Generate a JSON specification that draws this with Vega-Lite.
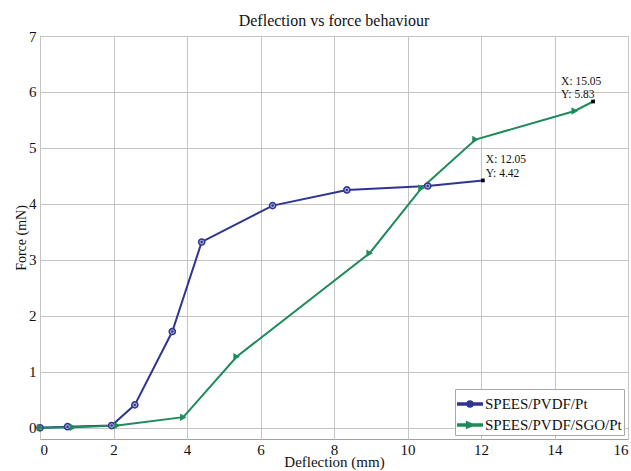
{
  "$schema": "https://vega.github.io/schema/vega-lite/v6.json",
  "width": 588,
  "height": 403,
  "autosize": {"type": "none"},
  "padding": {"left": 40, "top": 36, "right": 3, "bottom": 32},
  "background": "white",
  "title": {
    "text": "Deflection vs force behaviour",
    "fontSize": 16,
    "fontWeight": "normal",
    "font": "Liberation Serif",
    "color": "#111",
    "offset": 0
  },
  "data": {
    "values": [
      {"series": "SPEES/PVDF/Pt", "deflection": 0, "force": 0},
      {"series": "SPEES/PVDF/Pt", "deflection": 0.75, "force": 0.02},
      {"series": "SPEES/PVDF/Pt", "deflection": 1.95, "force": 0.04},
      {"series": "SPEES/PVDF/Pt", "deflection": 2.58, "force": 0.41},
      {"series": "SPEES/PVDF/Pt", "deflection": 3.6, "force": 1.72},
      {"series": "SPEES/PVDF/Pt", "deflection": 4.4, "force": 3.32},
      {"series": "SPEES/PVDF/Pt", "deflection": 6.33, "force": 3.97},
      {"series": "SPEES/PVDF/Pt", "deflection": 8.35, "force": 4.25},
      {"series": "SPEES/PVDF/Pt", "deflection": 10.55, "force": 4.32},
      {"series": "SPEES/PVDF/Pt", "deflection": 12.05, "force": 4.42},
      {"series": "SPEES/PVDF/SGO/Pt", "deflection": 0, "force": 0},
      {"series": "SPEES/PVDF/SGO/Pt", "deflection": 0.9, "force": 0.01},
      {"series": "SPEES/PVDF/SGO/Pt", "deflection": 2.1, "force": 0.04},
      {"series": "SPEES/PVDF/SGO/Pt", "deflection": 3.9, "force": 0.19},
      {"series": "SPEES/PVDF/SGO/Pt", "deflection": 5.35, "force": 1.27},
      {"series": "SPEES/PVDF/SGO/Pt", "deflection": 8.97, "force": 3.12},
      {"series": "SPEES/PVDF/SGO/Pt", "deflection": 10.38, "force": 4.28},
      {"series": "SPEES/PVDF/SGO/Pt", "deflection": 11.85, "force": 5.15},
      {"series": "SPEES/PVDF/SGO/Pt", "deflection": 14.55, "force": 5.66},
      {"series": "SPEES/PVDF/SGO/Pt", "deflection": 15.05, "force": 5.83}
    ]
  },
  "transform": [
    {"joinaggregate": [{"op": "max", "field": "deflection", "as": "lastDeflection"}], "groupby": ["series"]},
    {"calculate": "datum.deflection === datum.lastDeflection", "as": "isLast"}
  ],
  "encoding": {
    "x": {
      "field": "deflection",
      "type": "quantitative",
      "title": "Deflection (mm)",
      "scale": {"domain": [0, 16], "nice": false, "zero": false},
      "axis": {"values": [0, 2, 4, 6, 8, 10, 12, 14, 16], "labelPadding": 3, "titlePadding": -3, "titleFontSize": 15}
    },
    "y": {
      "field": "force",
      "type": "quantitative",
      "title": "Force (mN)",
      "scale": {"domain": [-0.2, 7], "nice": false, "zero": false},
      "axis": {"values": [0, 1, 2, 3, 4, 5, 6, 7], "labelPadding": 4, "titlePadding": 0}
    }
  },
  "layer": [
    {
      "mark": {"type": "line", "strokeWidth": 2},
      "encoding": {
        "color": {
          "field": "series",
          "type": "nominal",
          "scale": {"domain": ["SPEES/PVDF/Pt", "SPEES/PVDF/SGO/Pt"], "range": ["#2e3591", "#1f8a5a"]},
          "legend": {
            "title": null,
            "orient": "bottom-right",
            "offset": 4,
            "padding": 2,
            "rowPadding": -4,
            "fillColor": "white",
            "strokeColor": "#a8a8a8",
            "labelFontSize": 15,
            "labelFont": "Liberation Serif",
            "labelColor": "#111",
            "labelOffset": 2,
            "symbolSize": 600
          }
        }
      }
    },
    {
      "transform": [{"filter": "false"}],
      "mark": {"type": "point", "filled": true, "opacity": 1},
      "encoding": {
        "color": {"field": "series", "type": "nominal"},
        "shape": {
          "field": "series",
          "type": "nominal",
          "scale": {
            "domain": ["SPEES/PVDF/Pt", "SPEES/PVDF/SGO/Pt"],
            "range": [
              "M-1,-0.08H1V0.08H-1Z M-0.25,0A0.25,0.25 0 1,1 0.25,0A0.25,0.25 0 1,1 -0.25,0Z",
              "M-1,-0.08H1V0.08H-1Z M-0.28,-0.26L0.34,0L-0.28,0.26Z"
            ]
          },
          "legend": null
        }
      }
    },
    {
      "transform": [{"filter": "datum.series === 'SPEES/PVDF/Pt' && !datum.isLast"}],
      "mark": {"type": "point", "shape": "circle", "size": 38, "fill": "#a9acd6", "stroke": "#2e3591", "strokeWidth": 1.5, "opacity": 1, "fillOpacity": 1},
      "encoding": {}
    },
    {
      "transform": [{"filter": "datum.series === 'SPEES/PVDF/Pt' && !datum.isLast"}],
      "mark": {"type": "point", "shape": "circle", "filled": true, "color": "#2e3591", "size": 6, "opacity": 1},
      "encoding": {}
    },
    {
      "transform": [{"filter": "datum.series === 'SPEES/PVDF/SGO/Pt' && !datum.isLast"}],
      "mark": {"type": "point", "shape": "triangle-right", "filled": true, "color": "#1f8a5a", "size": 55, "opacity": 1},
      "encoding": {}
    },
    {
      "transform": [{"filter": "datum.isLast"}],
      "mark": {"type": "square", "color": "black", "size": 14, "opacity": 1},
      "encoding": {}
    },
    {
      "transform": [
        {"filter": "datum.isLast && datum.series === 'SPEES/PVDF/Pt'"},
        {"calculate": "['X: ' + format(datum.deflection, '.2f'), 'Y: ' + format(datum.force, '.2f')]", "as": "tip"}
      ],
      "mark": {"type": "text", "align": "left", "baseline": "top", "dx": 3, "dy": -26, "fontSize": 11.5, "lineHeight": 14, "font": "Liberation Serif", "color": "#111"},
      "encoding": {"text": {"field": "tip"}}
    },
    {
      "transform": [
        {"filter": "datum.isLast && datum.series === 'SPEES/PVDF/SGO/Pt'"},
        {"calculate": "['X: ' + format(datum.deflection, '.2f'), 'Y: ' + format(datum.force, '.2f')]", "as": "tip"}
      ],
      "mark": {"type": "text", "align": "left", "baseline": "top", "dx": -32, "dy": -25, "fontSize": 11.5, "lineHeight": 13, "font": "Liberation Serif", "color": "#111"},
      "encoding": {"text": {"field": "tip"}}
    }
  ],
  "config": {
    "font": "Liberation Serif",
    "view": {"stroke": "#a0a0a0", "strokeWidth": 1},
    "axis": {
      "domain": false,
      "ticks": false,
      "grid": true,
      "gridColor": "#c4c4c4",
      "gridWidth": 1,
      "labelFont": "Liberation Serif",
      "labelFontSize": 15,
      "labelColor": "#111",
      "titleFont": "Liberation Serif",
      "titleFontSize": 14,
      "titleFontWeight": "normal",
      "titleColor": "#111"
    }
  }
}
